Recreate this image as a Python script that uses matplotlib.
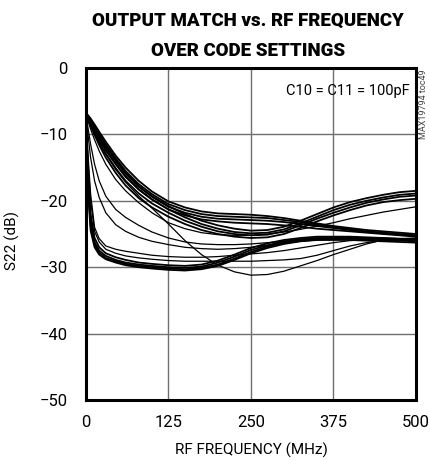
import matplotlib
matplotlib.use('Agg')
import matplotlib.pyplot as plt

plt.rcParams['font.family'] = ['Roboto', 'DejaVu Sans']

# frequency points (MHz)
freq = [0, 3, 7, 13, 20, 30, 45, 60, 80, 100, 125, 150, 175, 200, 225, 250,
        275, 300, 325, 350, 375, 400, 425, 450, 475, 500]

# upper curves that stay flat and then fall to about -25 dB
d1 = [-6.8, -7.1, -7.6, -8.5, -9.6, -11.1, -13.2, -15.0, -17.0, -18.6, -20.1, -21.0, -21.6,
      -21.9, -22.0, -22.1, -22.3, -22.6, -23.0, -23.4, -23.8, -24.1, -24.4, -24.6, -24.8, -25.0]
d2 = [-6.9, -7.2, -7.8, -8.8, -9.9, -11.5, -13.6, -15.5, -17.5, -19.0, -20.5, -21.4, -22.0,
      -22.3, -22.4, -22.5, -22.6, -22.9, -23.2, -23.6, -24.0, -24.3, -24.6, -24.8, -25.0, -25.2]
d3 = [-7.0, -7.4, -8.0, -9.1, -10.3, -11.9, -14.0, -15.9, -17.9, -19.4, -20.9, -21.8, -22.4,
      -22.7, -22.8, -22.9, -23.0, -23.2, -23.5, -23.8, -24.1, -24.4, -24.7, -24.9, -25.1, -25.3]
d4 = [-7.1, -7.5, -8.2, -9.4, -10.7, -12.4, -14.5, -16.4, -18.3, -19.8, -21.3, -22.2, -22.8,
      -23.1, -23.3, -23.4, -23.5, -23.7, -23.9, -24.2, -24.4, -24.6, -24.8, -25.0, -25.2, -25.4]

# curves that bottom out near 250 MHz and rise to about -19 dB
u1 = [-6.9, -7.3, -7.9, -9.0, -10.2, -11.8, -13.9, -15.8, -17.8, -19.3, -20.8, -22.0, -23.0,
      -23.7, -24.2, -24.5, -24.4, -23.9, -23.0, -22.0, -21.0, -20.2, -19.6, -19.1, -18.7, -18.5]
u2 = [-7.0, -7.4, -8.1, -9.3, -10.6, -12.3, -14.4, -16.3, -18.3, -19.8, -21.3, -22.5, -23.5,
      -24.2, -24.7, -24.9, -24.8, -24.3, -23.4, -22.4, -21.4, -20.6, -20.0, -19.5, -19.1, -18.9]
u3 = [-7.1, -7.6, -8.4, -9.7, -11.1, -12.9, -15.1, -17.0, -18.9, -20.4, -21.8, -23.0, -23.9,
      -24.6, -25.0, -25.2, -25.1, -24.6, -23.7, -22.7, -21.8, -21.0, -20.3, -19.8, -19.4, -19.2]
u4 = [-7.2, -7.8, -8.7, -10.1, -11.6, -13.5, -15.8, -17.7, -19.6, -21.0, -22.4, -23.5, -24.4,
      -25.0, -25.4, -25.6, -25.5, -25.0, -24.1, -23.1, -22.2, -21.4, -20.7, -20.2, -19.9, -19.7]

# thin single curves
r1 = [-7.2, -8.0, -9.2, -10.8, -12.5, -14.5, -16.8, -18.5, -20.3, -21.8, -23.3, -24.2, -24.8,
      -25.1, -25.2, -25.2, -25.0, -24.7, -24.3, -23.8, -23.3, -22.7, -22.2, -21.7, -21.3, -20.9]
dip = [-7.0, -7.6, -8.5, -9.8, -11.2, -13.0, -15.3, -17.2, -19.3, -21.1, -23.5, -26.0, -28.1,
       -29.7, -30.7, -31.2, -31.1, -30.6, -29.8, -29.0, -28.1, -27.3, -26.5, -25.9, -25.7, -25.6]
m2 = [-7.4, -9.0, -11.5, -14.5, -17.0, -19.3, -21.3, -22.5, -23.7, -24.7, -25.6, -26.2, -26.5,
      -26.6, -26.6, -26.5, -26.3, -26.1, -25.9, -25.8, -25.7, -25.6, -25.6, -25.6, -25.7, -25.8]
m3 = [-7.5, -10.0, -13.5, -17.0, -19.5, -21.8, -23.6, -24.6, -25.5, -26.1, -26.6, -27.0, -27.2,
      -27.3, -27.2, -27.0, -26.7, -26.4, -26.1, -25.9, -25.8, -25.7, -25.7, -25.8, -25.9, -26.0]
t1 = [-7.5, -13.0, -19.0, -24.0, -25.7, -26.8, -27.3, -27.6, -27.9, -28.2, -28.4, -28.5, -28.5,
      -28.4, -28.2, -28.0, -27.8, -27.5, -27.1, -26.7, -26.3, -26.0, -25.8, -25.7, -25.7, -25.7]
t2 = [-7.6, -14.0, -20.0, -24.6, -26.2, -27.3, -27.9, -28.3, -28.6, -28.8, -29.0, -29.1, -29.1,
      -29.1, -29.1, -29.1, -29.0, -28.9, -28.7, -28.2, -27.5, -26.8, -26.3, -26.0, -25.9, -25.9]

# lower bundle, fast drop to about -30 dB
l1 = [-7.0, -15.5, -22.0, -25.6, -27.0, -27.9, -28.5, -28.9, -29.3, -29.5, -29.7, -29.8, -29.6,
      -29.0, -28.1, -27.1, -26.4, -25.9, -25.6, -25.4, -25.4, -25.4, -25.5, -25.6, -25.7, -25.8]
l2 = [-7.1, -16.5, -23.0, -26.2, -27.5, -28.3, -28.9, -29.3, -29.6, -29.8, -30.0, -30.1, -29.9,
      -29.3, -28.4, -27.4, -26.7, -26.1, -25.8, -25.6, -25.6, -25.6, -25.7, -25.8, -25.9, -26.0]
l3 = [-7.2, -17.5, -23.8, -26.6, -27.8, -28.6, -29.1, -29.5, -29.8, -30.0, -30.2, -30.3, -30.1,
      -29.6, -28.7, -27.7, -26.9, -26.3, -25.9, -25.7, -25.7, -25.7, -25.8, -25.9, -26.0, -26.1]
l4 = [-7.3, -18.5, -24.5, -27.0, -28.1, -28.8, -29.3, -29.7, -30.0, -30.2, -30.4, -30.5, -30.3,
      -29.8, -28.9, -27.9, -27.1, -26.5, -26.1, -25.9, -25.9, -25.9, -26.0, -26.1, -26.2, -26.3]

thick = [d1, d2, d3, d4, u1, u2, u3, u4, l1, l2, l3, l4]
thin = [r1, dip, m2, m3, t1, t2]

fig = plt.figure(figsize=(4.30, 4.61), dpi=100)
ax = fig.add_axes([0.2, 0.1323, 0.7674, 0.7202])

for c in thick:
    ax.plot(freq, c, color='black', lw=1.3, solid_joinstyle='round')
for c in thin:
    ax.plot(freq, c, color='black', lw=0.9, solid_joinstyle='round')

ax.set_xlim(0, 500)
ax.set_ylim(-50, 0)
ax.set_xticks([0, 125, 250, 375, 500])
ax.set_yticks([0, -10, -20, -30, -40, -50])
ax.tick_params(length=0, labelsize=12)
ax.tick_params(axis='x', pad=11)
ax.tick_params(axis='y', pad=13)
ax.grid(color='#707070', lw=1.0)
ax.set_axisbelow(True)
for s in ax.spines.values():
    s.set_linewidth(2.2)

ax.set_xlabel('RF FREQUENCY (MHz)', fontsize=11)
ax.xaxis.set_label_coords(0.5, -0.13)
ax.set_ylabel('S22 (dB)', fontsize=11)
ax.yaxis.set_label_coords(-0.2, 0.48)

fig.text(0.576, 0.955, 'OUTPUT MATCH vs. RF FREQUENCY', ha='center', va='center',
         fontsize=13.5, fontweight='black')
fig.text(0.576, 0.89, 'OVER CODE SETTINGS', ha='center', va='center',
         fontsize=13.5, fontweight='black')

ax.text(491, -3.5, 'C10 = C11 = 100pF', ha='right', va='center', fontsize=10.5)
fig.text(0.986, 0.849, 'MAX19794 toc49', rotation=90, ha='center', va='top',
         fontsize=6.5, color='#444444')

fig.savefig('out.png', dpi=100)
